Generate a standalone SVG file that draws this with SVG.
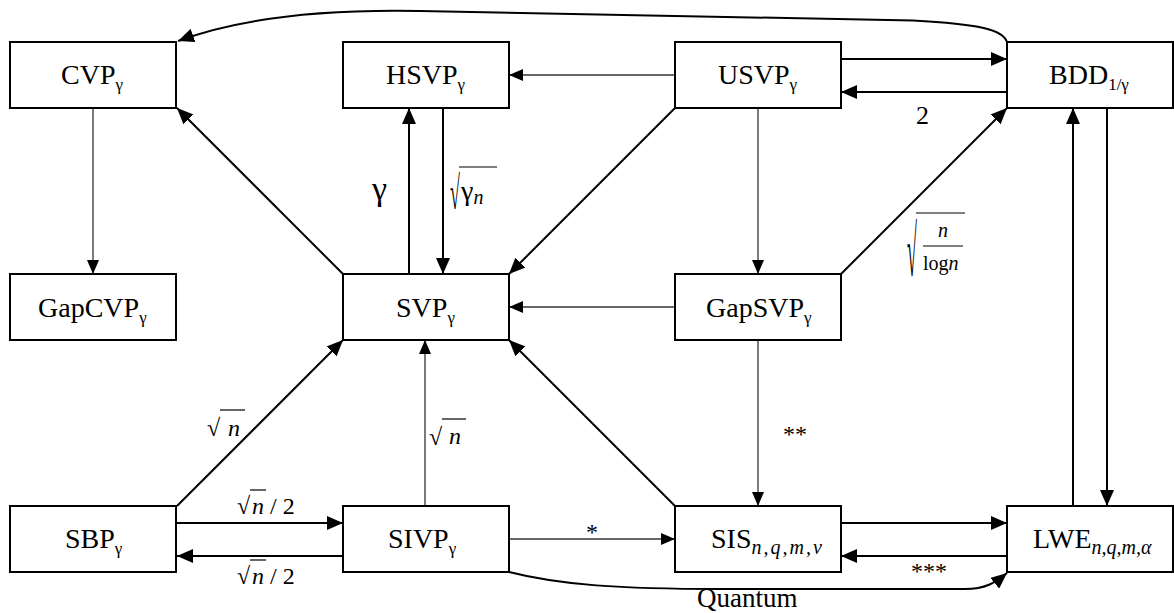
<svg xmlns="http://www.w3.org/2000/svg" width="1174" height="613" viewBox="0 0 1174 613">
  <defs>
    <marker id="arrow" markerUnits="userSpaceOnUse" markerWidth="16" markerHeight="14" refX="16" refY="7" orient="auto">
      <path d="M0,0 L16,7 L0,14 z" fill="#000"/>
    </marker>
    <marker id="arrow-thin" markerUnits="userSpaceOnUse" markerWidth="14" markerHeight="12" refX="14" refY="6" orient="auto">
      <path d="M0,0 L14,6 L0,12 z" fill="#000"/>
    </marker>
  </defs>
  <style>
    .box { fill: #fff; stroke: #000; stroke-width: 2; }
    text { font-family: 'Liberation Serif', 'DejaVu Serif', 'Noto Serif', serif; fill: #000; }
    .lbl { font-size: 28px; }
    .sub { font-size: 17px; }
    .isub { font-size: 20px; font-style: italic; }
    .edge { fill: none; stroke: #000; stroke-width: 2; marker-end: url(#arrow); }
    .thin { fill: none; stroke: #333; stroke-width: 1.3; marker-end: url(#arrow-thin); }
    .ann { font-size: 24px; }
    .it { font-style: italic; }
    .bar { stroke: #000; stroke-width: 1.2; }
  </style>

  <!-- connectors -->
  <g id="connectors">
    <path class="edge" d="M1007,42 C1003,30 980,24 913,20.5 L420,11 C320,9 240,18 178,41"/>
    <path class="thin" d="M675,75 L509,75"/>
    <path class="edge" d="M841,59 L1007,59"/>
    <path class="edge" d="M1007,92 L841,92"/>
    <path class="thin" d="M93,108 L93,274"/>
    <path class="edge" d="M343,274 L177,108"/>
    <path class="edge" d="M409,274 L409,108"/>
    <path class="edge" d="M443,108 L443,274"/>
    <path class="edge" d="M675,108 L509,274"/>
    <path class="thin" d="M758,108 L758,274"/>
    <path class="thin" d="M675,307 L509,307"/>
    <path class="edge" d="M841,274 L1007,108"/>
    <path class="edge" d="M1107,108 L1107,506"/>
    <path class="edge" d="M1073,506 L1073,108"/>
    <path class="edge" d="M177,506 L343,340"/>
    <path class="thin" d="M425,506 L425,340"/>
    <path class="edge" d="M675,506 L509,340"/>
    <path class="thin" d="M758,340 L758,506"/>
    <path class="edge" d="M177,523 L343,523"/>
    <path class="edge" d="M343,556 L177,556"/>
    <path class="thin" d="M509,539 L675,539"/>
    <path class="edge" d="M841,523 L1007,523"/>
    <path class="edge" d="M1007,556 L841,556"/>
    <path class="edge" d="M509,572 C560,585 620,589 720,589 L965,589 C985,589 995,583 1007,573"/>
  </g>

  <!-- edge annotations -->
  <g id="annotations">
    <text class="ann" x="916" y="124" style="font-size:26px">2</text>
    <text class="ann" x="372" y="200" style="font-size:34px">γ</text>
    <!-- sqrt(gamma_n) -->
    <text class="ann" transform="translate(450,209) scale(1,2.6)" style="font-size:18px">√</text>
    <line class="bar" x1="459" y1="167" x2="497" y2="167"/>
    <text class="ann" x="461" y="200" style="font-size:28px">γ<tspan class="it" font-size="20" dy="4">n</tspan></text>
    <!-- sqrt(n / log n) -->
    <text class="ann" transform="translate(907,276) scale(1,4)" style="font-size:18px">√</text>
    <line class="bar" x1="916" y1="213" x2="965" y2="213"/>
    <text class="ann it" x="943" y="237" text-anchor="middle" style="font-size:20px">n</text>
    <line class="bar" x1="923" y1="246" x2="963" y2="246"/>
    <text class="ann" x="923" y="270" style="font-size:20px">log<tspan class="it">n</tspan></text>
    <!-- sqrt(n) labels -->
    <text class="ann" x="207" y="436">√</text>
    <line class="bar" x1="220" y1="410" x2="245" y2="410"/>
    <text class="ann it" x="228" y="436">n</text>
    <text class="ann" x="429" y="445">√</text>
    <line class="bar" x1="442" y1="419" x2="466" y2="419"/>
    <text class="ann it" x="449" y="444">n</text>
    <text class="ann" x="237" y="514">√</text>
    <line class="bar" x1="250" y1="490" x2="266" y2="490"/>
    <text class="ann" x="252" y="514"><tspan class="it">n</tspan> / 2</text>
    <text class="ann" x="237" y="584">√</text>
    <line class="bar" x1="250" y1="560" x2="266" y2="560"/>
    <text class="ann" x="252" y="584"><tspan class="it">n</tspan> / 2</text>
    <text class="ann" x="592" y="540" text-anchor="middle">*</text>
    <text class="ann" x="795" y="442" text-anchor="middle">**</text>
    <text class="ann" x="929" y="579" text-anchor="middle">***</text>
    <text class="lbl" x="697" y="607" style="font-size:27px">Quantum</text>
  </g>

  <!-- nodes -->
  <g id="node-cvp">
    <rect class="box" x="10" y="42" width="166" height="66"/>
    <text class="lbl" x="61" y="84">CVP<tspan class="sub" dy="6">γ</tspan></text>
  </g>
  <g id="node-hsvp">
    <rect class="box" x="343" y="42" width="166" height="66"/>
    <text class="lbl" x="386" y="84">HSVP<tspan class="sub" dy="6">γ</tspan></text>
  </g>
  <g id="node-usvp">
    <rect class="box" x="675" y="42" width="166" height="66"/>
    <text class="lbl" x="718" y="84">USVP<tspan class="sub" dy="6">γ</tspan></text>
  </g>
  <g id="node-bdd">
    <rect class="box" x="1007" y="42" width="166" height="66"/>
    <text class="lbl" x="1049" y="84">BDD<tspan class="sub" dy="6">1/γ</tspan></text>
  </g>
  <g id="node-gapcvp">
    <rect class="box" x="10" y="274" width="166" height="66"/>
    <text class="lbl" x="38" y="317">GapCVP<tspan class="sub" dy="6">γ</tspan></text>
  </g>
  <g id="node-svp">
    <rect class="box" x="343" y="274" width="166" height="66"/>
    <text class="lbl" x="396" y="317">SVP<tspan class="sub" dy="6">γ</tspan></text>
  </g>
  <g id="node-gapsvp">
    <rect class="box" x="675" y="274" width="166" height="66"/>
    <text class="lbl" x="706" y="317">GapSVP<tspan class="sub" dy="6">γ</tspan></text>
  </g>
  <g id="node-sbp">
    <rect class="box" x="10" y="506" width="166" height="66"/>
    <text class="lbl" x="65" y="548">SBP<tspan class="sub" dy="6">γ</tspan></text>
  </g>
  <g id="node-sivp">
    <rect class="box" x="343" y="506" width="166" height="66"/>
    <text class="lbl" x="388" y="548">SIVP<tspan class="sub" dy="6">γ</tspan></text>
  </g>
  <g id="node-sis">
    <rect class="box" x="675" y="506" width="166" height="66"/>
    <text class="lbl" x="711" y="548">SIS<tspan class="isub" dy="6" letter-spacing="2">n,q,m,v</tspan></text>
  </g>
  <g id="node-lwe">
    <rect class="box" x="1007" y="506" width="166" height="66"/>
    <text class="lbl" x="1033" y="548">LWE<tspan class="isub" dy="6" font-size="19">n,q,m,α</tspan></text>
  </g>
</svg>
